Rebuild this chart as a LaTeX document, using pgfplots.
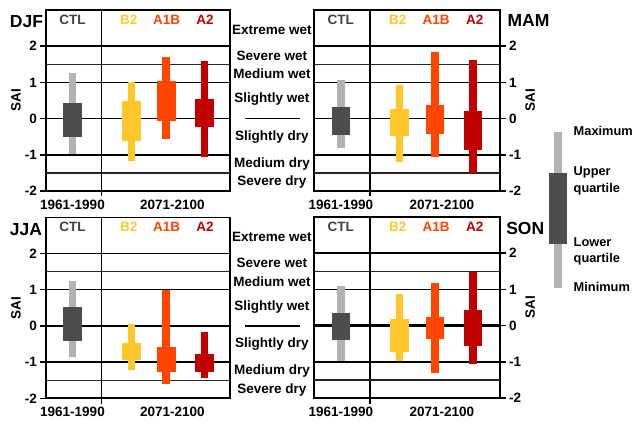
\documentclass[border=0pt]{standalone}
\usepackage{pgfplots}
\pgfplotsset{compat=1.18}
\usepackage{fontspec}
\setmainfont{Liberation Sans}

\definecolor{ctlbox}{RGB}{77,77,77}
\definecolor{ctlwh}{RGB}{178,178,178}
\definecolor{ctltxt}{RGB}{64,64,64}
\definecolor{bII}{RGB}{255,199,44}
\definecolor{aIB}{RGB}{255,69,0}
\definecolor{aII}{RGB}{192,0,0}

\newcommand{\lab}{\fontsize{13.5bp}{15bp}\selectfont\bfseries}
\newcommand{\keyfont}{\fontsize{12.8bp}{15bp}\selectfont\bfseries}
\newcommand{\seasonfont}{\fontsize{17.5bp}{20bp}\selectfont\bfseries}

% position, min, lower quartile, upper quartile, max, box colour, whisker colour
\newcommand{\bx}[7]{%
  \addplot[#7, line width=7.7bp] coordinates {(#1,#2) (#1,#5)};
  \addplot[#6, line width=18.4bp] coordinates {(#1,#3) (#1,#4)};}

\newcommand{\heads}{%
  \node[font=\lab, text=ctltxt] at (axis cs:1.44,2.73) {CTL};
  \node[font=\lab, text=bII] at (axis cs:4.5,2.73) {B2};
  \node[font=\lab, text=aIB] at (axis cs:6.56,2.73) {A1B};
  \node[font=\lab, text=aII] at (axis cs:8.64,2.73) {A2};
  \node[font=\lab] at (axis cs:1.44,-2.38) {1961-1990};
  \node[font=\lab] at (axis cs:6.87,-2.38) {2071-2100};}

\newcommand{\classes}{%
  \node[font=\lab] at (axis cs:12.28,2.45) {Extreme wet};
  \node[font=\lab] at (axis cs:12.28,1.73) {Severe wet};
  \node[font=\lab] at (axis cs:12.28,1.23) {Medium wet};
  \node[font=\lab] at (axis cs:12.28,0.53) {Slightly wet};
  \draw[line width=1.6bp] (axis cs:10.82,0) -- (axis cs:13.8,0);
  \node[font=\lab] at (axis cs:12.28,-0.50) {Slightly dry};
  \node[font=\lab] at (axis cs:12.28,-1.25) {Medium dry};
  \node[font=\lab] at (axis cs:12.28,-1.76) {Severe dry};}

\pgfplotsset{
  panel/.style={
    anchor=south west, scale only axis, height=181bp,
    xmin=0, xmax=10, ymin=-2, ymax=3,
    xtick={3.02}, xticklabels={}, xmajorgrids, xtick pos=left,
    ytick={-2,-1,0,1,2}, yticklabels={-2,-1,0,1,2}, ymajorgrids,
    extra y ticks={-1.5,1.5}, extra y tick labels={},
    extra y tick style={grid=major, major tick length=0pt,
      grid style={black!85, line width=1.3bp}},
    tick align=outside, major tick length=5.5bp,
    axis line style={line width=1.5bp},
    grid style={black, line width=1.6bp},
    every tick/.style={black, line width=1.5bp},
    ticklabel style={font=\lab},
    ylabel={SAI}, ylabel near ticks, ylabel style={font=\lab},
    ylabel shift=-8bp,
    clip=false,
  },
  leftpanel/.style={panel, width=184bp, ytick pos=left},
  rightpanel/.style={panel, width=186bp, ytick pos=right, yticklabel pos=right},
}

\begin{document}
\begin{tikzpicture}
\path[use as bounding box] (0,0) rectangle (633bp,422bp);

% DJF
\begin{axis}[leftpanel, at={(46bp,231bp)}]
\bx{1.44}{-0.975}{-0.515}{0.44}{1.27}{ctlbox}{ctlwh}
\bx{4.64}{-1.18}{-0.61}{0.49}{1.02}{bII}{bII}
\bx{6.54}{-0.57}{-0.06}{1.04}{1.69}{aIB}{aIB}
\bx{8.62}{-1.05}{-0.22}{0.55}{1.60}{aII}{aII}
\heads
\classes
\node[font=\seasonfont, anchor=west] at (axis cs:-2.15,2.69) {DJF};
\end{axis}

% MAM
\begin{axis}[rightpanel, at={(314bp,231bp)}]
\bx{1.44}{-0.82}{-0.45}{0.33}{1.07}{ctlbox}{ctlwh}
\bx{4.60}{-1.21}{-0.48}{0.26}{0.93}{bII}{bII}
\bx{6.50}{-1.05}{-0.42}{0.37}{1.85}{aIB}{aIB}
\bx{8.55}{-1.49}{-0.88}{0.21}{1.62}{aII}{aII}
\heads
\node[font=\seasonfont, anchor=west] at (axis cs:10.22,2.71) {MAM};
\end{axis}

% JJA
\begin{axis}[leftpanel, at={(46bp,23.7bp)}]
\bx{1.44}{-0.85}{-0.43}{0.51}{1.24}{ctlbox}{ctlwh}
\bx{4.64}{-1.23}{-0.94}{-0.48}{0.05}{bII}{bII}
\bx{6.54}{-1.60}{-1.28}{-0.59}{0.99}{aIB}{aIB}
\bx{8.62}{-1.44}{-1.26}{-0.77}{-0.16}{aII}{aII}
\heads
\classes
\node[font=\seasonfont, anchor=west] at (axis cs:-2.15,2.65) {JJA};
\end{axis}

% SON
\begin{axis}[rightpanel, at={(314bp,24bp)}]
\draw[line width=2.3bp] (axis cs:0,0) -- (axis cs:10,0);
\bx{1.44}{-0.97}{-0.40}{0.35}{1.10}{ctlbox}{ctlwh}
\bx{4.60}{-0.97}{-0.74}{0.18}{0.87}{bII}{bII}
\bx{6.50}{-1.31}{-0.37}{0.23}{1.17}{aIB}{aIB}
\bx{8.55}{-1.06}{-0.55}{0.43}{1.47}{aII}{aII}
\heads
\node[font=\seasonfont, anchor=west] at (axis cs:10.15,2.69) {SON};
\end{axis}

% key
\begin{axis}[anchor=south west, at={(548.5bp,130bp)}, scale only axis,
  width=20bp, height=165bp, xmin=0, xmax=1.087, ymin=130, ymax=295,
  hide axis, clip=false]
\bx{0.5}{134}{178}{249.3}{290.3}{ctlbox}{ctlwh}
\node[font=\keyfont, anchor=west] at (axis cs:1.18,291) {Maximum};
\node[font=\keyfont, anchor=west] at (axis cs:1.18,250) {Upper};
\node[font=\keyfont, anchor=west] at (axis cs:1.18,233) {quartile};
\node[font=\keyfont, anchor=west] at (axis cs:1.18,180) {Lower};
\node[font=\keyfont, anchor=west] at (axis cs:1.18,163) {quartile};
\node[font=\keyfont, anchor=west] at (axis cs:1.18,135) {Minimum};
\end{axis}
\end{tikzpicture}
\end{document}
